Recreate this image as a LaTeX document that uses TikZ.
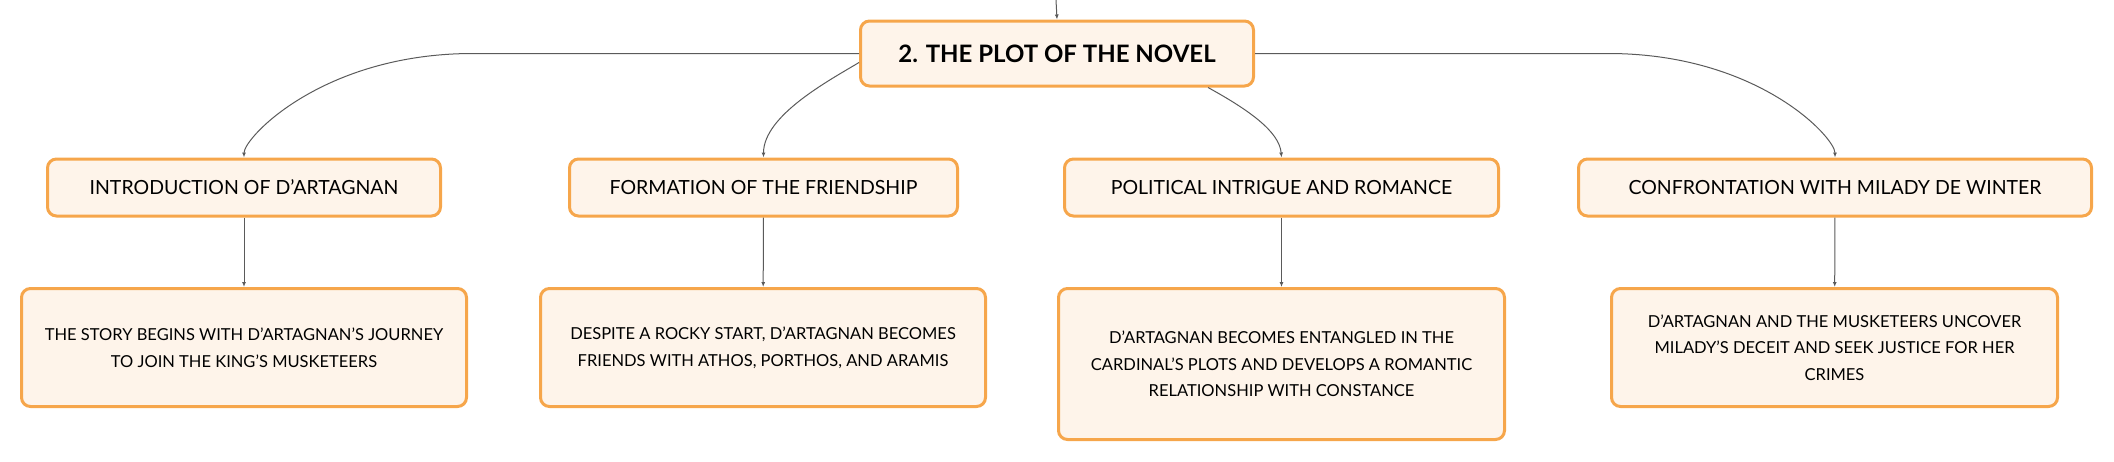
\documentclass[tikz,border=0pt]{standalone}
\usepackage{fontspec}
\setmainfont{Lato}
\usepackage{tikz}
\usetikzlibrary{arrows.meta}
\usetikzlibrary{calc}

\definecolor{boxline}{HTML}{F6A64B}
\definecolor{boxfill}{HTML}{FEF4EA}
\definecolor{linkcol}{HTML}{5A5A5A}

\tikzset{
  box/.style={draw=boxline, fill=boxfill, line width=3pt, rounded corners=9pt, align=center, inner sep=0pt},
  rootbox/.style={box, minimum width=393pt, minimum height=65pt, font=\fontsize{24}{29}\selectfont\bfseries},
  topicbox/.style={box, minimum height=57pt, font=\fontsize{19.5}{24}\selectfont},
  notebox/.style={box, minimum width=445pt, font=\fontsize{16.5}{26.7}\selectfont},
  link/.style={draw=linkcol, line width=1pt, -{Latex[length=5pt,width=4pt]}}
}

\begin{document}
\begin{tikzpicture}[x=1pt,y=1pt]
      \useasboundingbox (0,0) rectangle (2114,-461);

      \node[rootbox] (root) at (1057,-53.5) {2. THE PLOT OF THE NOVEL};

      \node[topicbox, minimum width=393pt] (intro) at (244,-187.5) {INTRODUCTION OF D'ARTAGNAN};
      \node[topicbox, minimum width=388pt] (friend) at (763.5,-187.5) {FORMATION OF THE FRIENDSHIP};
      \node[topicbox, minimum width=434pt] (intrigue) at (1281.5,-187.5) {POLITICAL INTRIGUE AND ROMANCE};
      \node[topicbox, minimum width=513pt] (milady) at (1835,-187.5) {CONFRONTATION WITH MILADY DE WINTER};

      \node[notebox, minimum height=118pt] (story) at (244,-347.5) {THE STORY BEGINS WITH D'ARTAGNAN'S JOURNEY\\TO JOIN THE KING'S MUSKETEERS};
      \node[notebox, minimum height=118pt] (rocky) at (763,-347.5) {DESPITE A ROCKY START, D'ARTAGNAN BECOMES\\FRIENDS WITH ATHOS, PORTHOS, AND ARAMIS};
      \node[notebox, minimum width=446pt, minimum height=151pt] (plots) at (1281.5,-364) {D'ARTAGNAN BECOMES ENTANGLED IN THE\\CARDINAL'S PLOTS AND DEVELOPS A ROMANTIC\\RELATIONSHIP WITH CONSTANCE};
      \node[notebox, minimum width=446pt, minimum height=118pt] (justice) at (1834.5,-347.5) {D'ARTAGNAN AND THE MUSKETEERS UNCOVER\\MILADY'S DECEIT AND SEEK JUSTICE FOR HER\\CRIMES};

      \coordinate (top) at (1056,0);
      \coordinate (lbend) at (473,-53.5);
      \coordinate (rbend) at (1608,-53.5);

      \draw[link] (top) -- (root.north);
      \draw[link] (root.west) -- (lbend) .. controls +(-150,0) and +(0,20) .. (intro.north);
      \draw[link] ([yshift=-9pt]root.west) .. controls +(-30,-18) and +(0,42) .. (friend.north);
      \draw[link] ([xshift=-47pt]root.south east) .. controls +(40,-22) and +(-2,26) .. (intrigue.north);
      \draw[link] (root.east) -- (rbend) .. controls +(150,0) and +(0,20) .. (milady.north);

      \draw[link] (intro) -- (story);
      \draw[link] (friend) -- (rocky);
      \draw[link] (intrigue) -- (plots);
      \draw[link] (milady) -- (justice);
  \end{tikzpicture}
\end{document}
